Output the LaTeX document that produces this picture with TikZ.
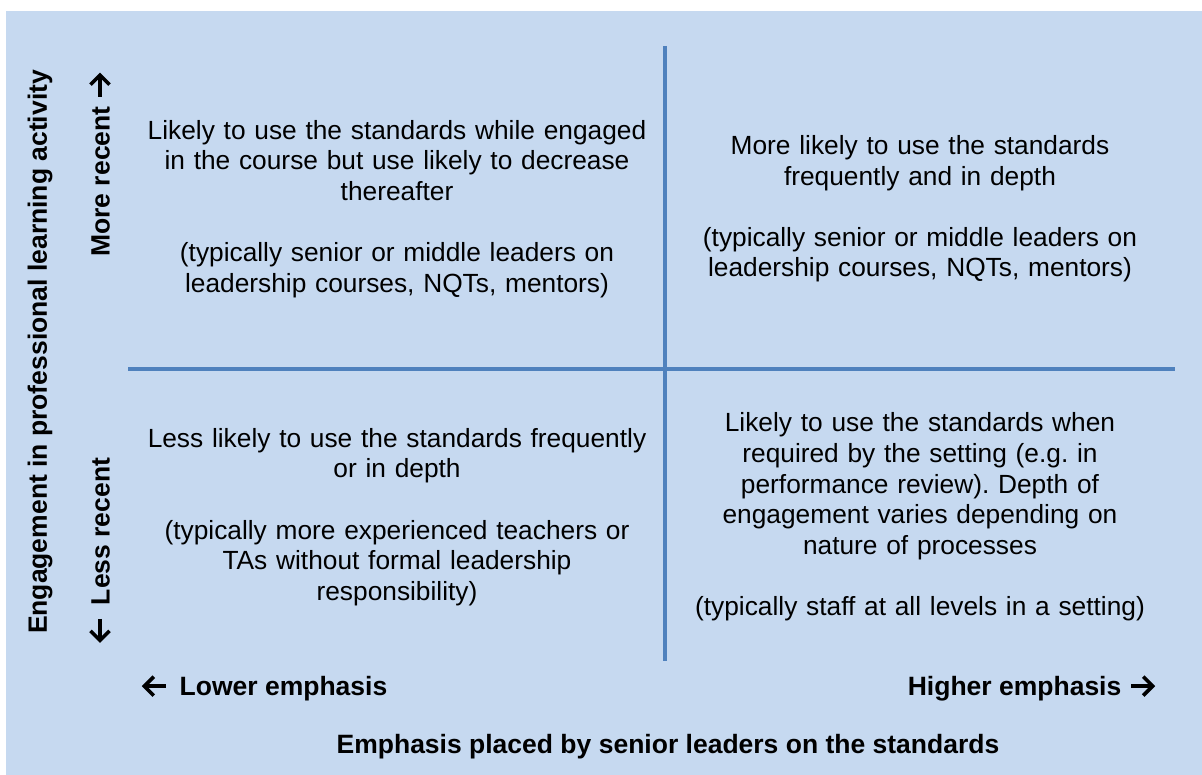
\documentclass[tikz,border=0pt]{standalone}
\usepackage{fontspec}
\setmainfont{Liberation Sans}
% inline arrows drawn as a shaft plus an open chevron head
\tikzset{arrowstroke/.style={line width=3.6pt,line cap=butt,line join=miter,draw=black}}
\newcommand{\rightarr}{\tikz[x=1pt,y=1pt,baseline=-9.5pt]{\draw[arrowstroke] (0,0) -- (21,0); \draw[arrowstroke] (12,9.5) -- (21.5,0) -- (12,-9.5);}}
\newcommand{\leftarr}{\tikz[x=1pt,y=1pt,baseline=-9.5pt]{\draw[arrowstroke] (22,0) -- (1,0); \draw[arrowstroke] (10,9.5) -- (0.5,0) -- (10,-9.5);}}
\frenchspacing
\begin{document}
\begin{tikzpicture}[x=1pt,y=-1pt,
  quadtext/.style={align=center,font=\fontsize{26.3}{30.6}\selectfont,text width=560pt},
  axislabel/.style={font=\bfseries\fontsize{26.5}{30}\selectfont},
  divider/.style={line width=3.8pt,draw=gridblue}]
\definecolor{panelblue}{HTML}{C6D9F0}
\definecolor{gridblue}{HTML}{4F81BD}
\useasboundingbox (0,0) rectangle (1202,775);
\fill[white] (0,0) rectangle (1202,775);
\fill[panelblue] (6,11) rectangle (1202,775);

% quadrant dividers
\coordinate (vtop) at (665,46);
\coordinate (vbot) at (665,661);
\coordinate (hleft) at (128,369);
\coordinate (hright) at (1175,369);
\draw[divider] (vtop) -- (vbot);
\draw[divider] (hleft) -- (hright);

% quadrant texts
\node[quadtext] (tl) at (397,209) {Likely to use the standards while engaged\\in the course but use likely to decrease\\thereafter\\[30.6pt](typically senior or middle leaders on\\leadership courses, NQTs, mentors)};
\node[quadtext] (tr) at (920,209) {More likely to use the standards\\frequently and in depth\\[30.6pt](typically senior or middle leaders on\\leadership courses, NQTs, mentors)};
\node[quadtext] (bl) at (397,517) {Less likely to use the standards frequently\\or in depth\\[30.6pt](typically more experienced teachers or\\TAs without formal leadership\\responsibility)};
\node[quadtext] (br) at (920,517) {Likely to use the standards when\\required by the setting (e.g. in\\performance review). Depth of\\engagement varies depending on\\nature of processes\\[30.6pt](typically staff at all levels in a setting)};

% horizontal axis
\node[axislabel,anchor=west] (lower) at (139,688) {\leftarr\hspace{12pt}Lower emphasis};
\node[axislabel,anchor=east] (higher) at (1158,688) {Higher emphasis\hspace{8pt}\rightarr};
\node[axislabel] (xtitle) at (668,747) {Emphasis placed by senior leaders on the standards};

% vertical axis
\node[axislabel,rotate=90] (ytitle) at (40,352) {Engagement in professional learning activity};
\node[axislabel,rotate=90] (more) at (100,165) {More recent\hspace{8pt}\rightarr};
\node[axislabel,rotate=90] (less) at (100,550) {\leftarr\hspace{12pt}Less recent};
\end{tikzpicture}
\end{document}
